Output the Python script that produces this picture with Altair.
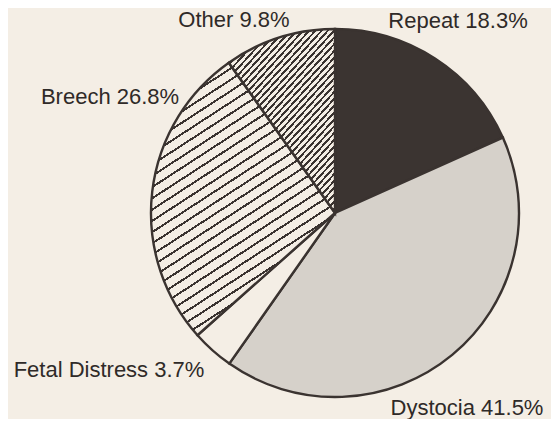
import math
import altair as alt
import pandas as pd

# ---- data ----
causes = ["Repeat", "Dystocia", "Fetal Distress", "Breech", "Other"]
shares = [18.3, 41.5, 3.7, 26.8, 9.8]
labels = ["Repeat 18.3%", "Dystocia 41.5%", "Fetal Distress 3.7%", "Breech 26.8%", "Other 9.8%"]

df = pd.DataFrame({"cause": causes, "share": shares, "order": list(range(len(causes))), "label": labels})

PAPER = "#f4eee5"
INK = "#3a3330"


def hatch(w, h, angle, spacing, lw, ink, paper):
    """Striped fill built from a linear gradient (bbox units)."""
    th = math.radians(angle)
    a = math.sin(th) / h
    b = math.cos(th) / w
    c = (a + b) / (a * a + b * b)
    L = w * math.sin(th) + h * math.cos(th)
    stops = []
    i = 0
    while i * spacing < L:
        o0 = i * spacing / L
        o1 = min((i * spacing + lw) / L, 1.0)
        stops += [
            {"offset": o0, "color": paper},
            {"offset": o0, "color": ink},
            {"offset": o1, "color": ink},
            {"offset": o1, "color": paper},
        ]
        i += 1
    return {"gradient": "linear", "x1": 0, "y1": 0, "x2": c * a, "y2": c * b, "stops": stops}


breech_fill = hatch(185, 274, 33, 9.5, 2.0, INK, PAPER)
other_fill = hatch(106, 185, 48, 4.6, 1.9, INK, PAPER)

fill = alt.FillValue(
    value=PAPER,
    condition=[
        {"test": "datum.cause === 'Repeat'", "value": "#3b3431"},
        {"test": "datum.cause === 'Dystocia'", "value": "#d6d1ca"},
        {"test": "datum.cause === 'Breech'", "value": breech_fill},
        {"test": "datum.cause === 'Other'", "value": other_fill},
    ],
)

pie = alt.Chart(df).mark_arc(
    outerRadius=184, stroke=INK, strokeWidth=2.4, x=327, y=205
).encode(
    theta=alt.Theta("share:Q", stack=True),
    order=alt.Order("order:Q"),
    fill=fill,
)

label_pos = {
    "Repeat": (450, 13),
    "Dystocia": (459, 400),
    "Fetal Distress": (101, 362),
    "Breech": (102, 89),
    "Other": (226, 12),
}

layers = [pie]
for cause, (lx, ly) in label_pos.items():
    layers.append(
        alt.Chart(df)
        .transform_filter(f"datum.cause === '{cause}'")
        .mark_text(x=lx, y=ly, font="Liberation Sans", fontSize=22, color="#2f2a28",
                   align="center", baseline="middle")
        .encode(text="label:N")
    )

chart = alt.layer(*layers).properties(
    width=543, height=411, background=PAPER, padding=0,
    autosize=alt.AutoSizeParams(type="none"),
).configure_view(stroke=None)

chart.save("out.html", embed_options={"renderer": "svg", "actions": False})
